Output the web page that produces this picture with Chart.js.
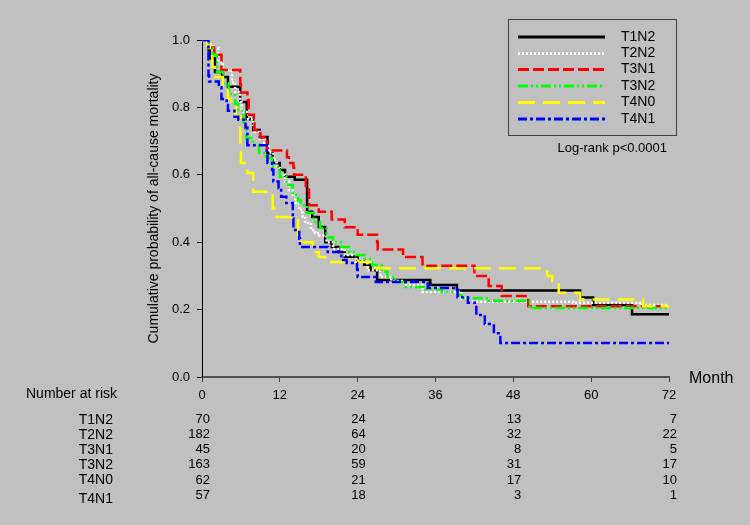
<!DOCTYPE html>
<html>
<head>
<meta charset="utf-8">
<script src="https://cdn.jsdelivr.net/npm/chart.js@4.4.1/dist/chart.umd.min.js"></script>
<style>
  html, body { margin: 0; padding: 0; background: #c0c0c0; }
  canvas { display: block; }
</style>
</head>
<body>
<canvas id="km" width="750" height="525"></canvas>
<script>
// --- data ---
const groups = ['T1N2', 'T2N2', 'T3N1', 'T3N2', 'T4N0', 'T4N1'];

const t1n2Time = [0, 1.0, 1.2, 2.0, 3.1, 4.0, 5.9, 6.9, 7.9, 8.9, 10.1, 10.9, 12.0, 12.8, 14.3, 16.2, 17.0, 18.0, 19.0, 20.0, 21.0, 22.0, 24.0, 25.0, 26.0, 27.0, 35.2, 39.3, 58.3, 60.3, 66.3, 72];
const t1n2Surv = [1.0, 0.971, 0.946, 0.905, 0.89, 0.861, 0.816, 0.765, 0.733, 0.712, 0.664, 0.635, 0.614, 0.594, 0.585, 0.49, 0.475, 0.445, 0.40, 0.386, 0.371, 0.357, 0.343, 0.333, 0.317, 0.288, 0.273, 0.257, 0.236, 0.214, 0.186, 0.186];

const t2n2Time = [0, 1.0, 1.7, 2.5, 3.2, 4.6, 5.1, 5.9, 6.1, 7.1, 7.9, 8.1, 8.9, 9.6, 10.3, 11.0, 11.5, 12.0, 12.8, 13.4, 14.0, 14.4, 15.0, 15.5, 15.9, 16.8, 17.4, 18.1, 19.2, 20.2, 22.0, 23.8, 25.5, 27.5, 29.2, 31.2, 34.0, 40.0, 41.0, 57.2, 67.5, 72];
const t2n2Surv = [1.0, 0.988, 0.976, 0.935, 0.91, 0.875, 0.846, 0.816, 0.786, 0.765, 0.748, 0.727, 0.706, 0.688, 0.666, 0.644, 0.62, 0.60, 0.58, 0.555, 0.54, 0.516, 0.496, 0.476, 0.457, 0.436, 0.427, 0.42, 0.40, 0.38, 0.362, 0.345, 0.317, 0.297, 0.285, 0.273, 0.252, 0.234, 0.223, 0.22, 0.214, 0.214];

const t3n1Time = [0, 1.0, 1.9, 3.0, 5.9, 6.0, 7.0, 7.2, 8.0, 8.1, 9.0, 10.0, 13.1, 13.4, 14.1, 14.2, 16.0, 16.5, 18.0, 20.0, 22.0, 24.0, 27.0, 27.1, 31.0, 34.0, 42.0, 44.2, 46.2, 50.3, 72];
const t3n1Surv = [1.0, 0.978, 0.956, 0.911, 0.867, 0.844, 0.822, 0.778, 0.756, 0.733, 0.711, 0.672, 0.652, 0.635, 0.622, 0.60, 0.556, 0.51, 0.49, 0.467, 0.444, 0.422, 0.40, 0.378, 0.356, 0.33, 0.30, 0.27, 0.24, 0.21, 0.21];

const t3n2Time = [0, 1.0, 1.7, 2.3, 3.3, 4.1, 5.1, 5.6, 6.4, 6.8, 7.8, 8.8, 9.8, 10.8, 12.0, 13.0, 14.0, 14.8, 15.2, 16.2, 17.2, 18.2, 19.2, 20.2, 21.5, 22.7, 23.8, 25.0, 26.2, 27.7, 28.6, 29.8, 31.3, 34.5, 37.0, 39.5, 40.3, 44.2, 50.5, 72];
const t3n2Surv = [1.0, 0.975, 0.955, 0.905, 0.872, 0.84, 0.81, 0.79, 0.755, 0.71, 0.69, 0.665, 0.65, 0.623, 0.594, 0.57, 0.54, 0.525, 0.51, 0.487, 0.46, 0.442, 0.415, 0.40, 0.386, 0.371, 0.362, 0.35, 0.332, 0.312, 0.297, 0.282, 0.267, 0.26, 0.252, 0.243, 0.234, 0.226, 0.205, 0.205];

const t4n0Time = [0, 0.8, 1.2, 1.6, 2.0, 3.2, 4.0, 4.5, 5.2, 5.9, 6.0, 7.0, 7.9, 10.9, 11.5, 14.8, 17.1, 18.0, 19.0, 26.0, 53.2, 54.0, 55.0, 58.3, 68.0, 72];
const t4n0Surv = [1.0, 0.984, 0.952, 0.92, 0.89, 0.86, 0.826, 0.806, 0.774, 0.69, 0.635, 0.605, 0.55, 0.50, 0.475, 0.40, 0.37, 0.356, 0.341, 0.323, 0.30, 0.285, 0.25, 0.23, 0.21, 0.21];

const t4n1Time = [0, 1.0, 1.1, 2.6, 3.0, 3.8, 4.0, 5.0, 5.6, 6.7, 7.0, 10.0, 10.1, 10.8, 11.0, 11.8, 12.2, 13.0, 14.0, 14.1, 15.0, 15.1, 19.4, 21.5, 22.3, 23.9, 24.0, 26.8, 34.8, 39.4, 41.0, 42.3, 43.6, 45.0, 46.0, 72];
const t4n1Surv = [1.0, 0.895, 0.877, 0.86, 0.825, 0.807, 0.79, 0.772, 0.763, 0.74, 0.688, 0.667, 0.635, 0.614, 0.58, 0.56, 0.535, 0.516, 0.47, 0.436, 0.41, 0.386, 0.371, 0.347, 0.338, 0.32, 0.297, 0.282, 0.264, 0.237, 0.22, 0.184, 0.157, 0.13, 0.101, 0.101];

// number at risk table
const riskMonths = [0, 24, 48, 72];
const riskT1N2 = [70, 24, 13, 7];
const riskT2N2 = [182, 64, 32, 22];
const riskT3N1 = [45, 20, 8, 5];
const riskT3N2 = [163, 59, 31, 17];
const riskT4N0 = [62, 21, 17, 10];
const riskT4N1 = [57, 18, 3, 1];

const xTicks = [0, 12, 24, 36, 48, 60, 72];
const yTicks = [0, 0.2, 0.4, 0.6, 0.8, 1.0];

// --- styles ---
const times = [t1n2Time, t2n2Time, t3n1Time, t3n2Time, t4n0Time, t4n1Time];
const survs = [t1n2Surv, t2n2Surv, t3n1Surv, t3n2Surv, t4n0Surv, t4n1Surv];
const risks = [riskT1N2, riskT2N2, riskT3N1, riskT3N2, riskT4N0, riskT4N1];
const colors = ['#000000', '#ffffff', '#ff0000', '#00ff00', '#ffff00', '#0000ff'];
const dashes = [[], [2, 2], [11, 4], [10, 3, 2, 3, 2, 3], [17, 8], [9, 3, 3, 3]];

const datasets = groups.map((g, i) => ({
  label: g,
  data: times[i].map((t, k) => ({ x: t, y: survs[i][k] })),
  borderColor: colors[i],
  borderWidth: 2.5,
  borderDash: dashes[i],
  borderCapStyle: 'butt',
  stepped: 'before',
  pointRadius: 0,
  fill: false,
  order: groups.length - i   // last group drawn on top
}));

// legend, log-rank note, axis unit and the risk table
const extrasPlugin = {
  id: 'extras',
  afterDraw(chart) {
    const ctx = chart.ctx;
    const xs = chart.scales.x;
    ctx.save();

    // legend box
    ctx.strokeStyle = '#404040';
    ctx.lineWidth = 1;
    ctx.strokeRect(508.5, 19.5, 168, 116);
    const legY = [37, 53.5, 69.5, 86, 102.5, 119];
    chart.data.datasets.forEach((ds, i) => {
      ctx.strokeStyle = ds.borderColor;
      ctx.lineWidth = 3;
      ctx.lineCap = 'butt';
      ctx.setLineDash(ds.borderDash);
      ctx.beginPath();
      ctx.moveTo(518, legY[i]);
      ctx.lineTo(605, legY[i]);
      ctx.stroke();
      ctx.setLineDash([]);
      ctx.fillStyle = '#000';
      ctx.font = '14px "Liberation Sans", Arial, sans-serif';
      ctx.textAlign = 'left';
      ctx.textBaseline = 'middle';
      ctx.fillText(ds.label, 621, legY[i]);
    });

    ctx.font = '13px "Liberation Sans", Arial, sans-serif';
    ctx.textAlign = 'right';
    ctx.fillText('Log-rank p<0.0001', 667, 148);

    ctx.font = '16px "Liberation Sans", Arial, sans-serif';
    ctx.textAlign = 'left';
    ctx.fillText('Month', 689, 379);

    // number at risk
    ctx.font = '14px "Liberation Sans", Arial, sans-serif';
    ctx.textAlign = 'right';
    ctx.fillText('Number at risk', 117, 394);
    const labelY = [420, 435, 450, 465, 480, 499];
    const numY = [419, 434, 449, 464, 480, 495];
    groups.forEach((g, i) => {
      ctx.font = '14px "Liberation Sans", Arial, sans-serif';
      ctx.fillText(g, 113, labelY[i]);
      ctx.font = '13px "Liberation Sans", Arial, sans-serif';
      riskMonths.forEach((m, k) => {
        ctx.fillText(String(risks[i][k]), xs.getPixelForValue(m) + 8, numY[i]);
      });
    });
    ctx.restore();
  }
};

new Chart(document.getElementById('km'), {
  type: 'line',
  data: { datasets: datasets },
  options: {
    responsive: false,
    animation: false,
    layout: { padding: { left: 138, top: 40, right: 81, bottom: 118 } },
    plugins: {
      legend: { display: false },
      tooltip: { enabled: false }
    },
    scales: {
      x: {
        type: 'linear',
        min: 0,
        max: 72,
        afterBuildTicks: s => { s.ticks = xTicks.map(v => ({ value: v })); },
        afterFit: s => { s.height = 30; },
        ticks: {
          color: '#000',
          font: { family: '"Liberation Sans", Arial, sans-serif', size: 13 },
          padding: 6,
          maxRotation: 0
        },
        grid: { drawOnChartArea: false, drawTicks: true, tickLength: 5, color: '#404040' },
        border: { color: '#505050', width: 2 }
      },
      y: {
        min: 0,
        max: 1,
        afterBuildTicks: s => { s.ticks = yTicks.map(v => ({ value: v })); },
        afterFit: s => { s.width = 64; },
        ticks: {
          color: '#000',
          font: { family: '"Liberation Sans", Arial, sans-serif', size: 13 },
          padding: 7,
          callback: v => v.toFixed(1)
        },
        grid: { drawOnChartArea: false, drawTicks: true, tickLength: 5, color: '#000' },
        border: { color: '#000', width: 1 },
        title: {
          display: true,
          text: 'Cumulative probability of all-cause mortality',
          color: '#000',
          font: { family: '"Liberation Sans", Arial, sans-serif', size: 14 },
          padding: { top: 8, bottom: 0 }
        }
      }
    }
  },
  plugins: [extrasPlugin]
});
</script>
</body>
</html>
